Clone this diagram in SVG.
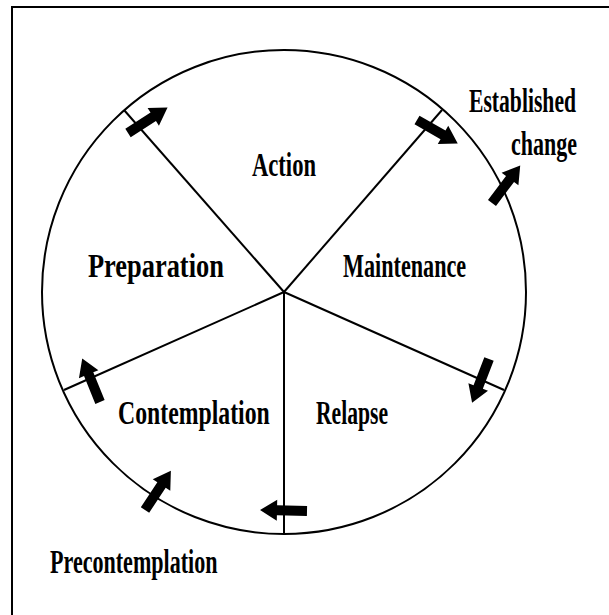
<svg xmlns="http://www.w3.org/2000/svg" xmlns:xlink="http://www.w3.org/1999/xlink" width="609" height="615" viewBox="0 0 609 615">
  <style>
    .lbl { font-family: "Liberation Serif", "Times New Roman", serif; font-weight: bold; font-size: 33px; fill: #000; }
    .ln { stroke: #000; stroke-width: 2; fill: none; }
  </style>
  <defs>
    <path id="arr" d="M0,-5 L30,-5 L30,-10.5 L47,0 L30,10.5 L30,5 L0,5 Z" fill="#000"/>
  </defs>
  <rect x="0" y="0" width="609" height="615" fill="#fff"/>
  <rect x="12" y="7" width="640" height="640" class="ln"/>
  <g id="wheel">
    <circle cx="284" cy="292" r="242" class="ln"/>
  </g>
  <g id="connectors">
    <line x1="284" y1="292" x2="124" y2="110" class="ln"/>
    <line x1="284" y1="292" x2="442" y2="110" class="ln"/>
    <line x1="284" y1="292" x2="504" y2="390" class="ln"/>
    <line x1="284" y1="292" x2="284" y2="534" class="ln"/>
    <line x1="284" y1="292" x2="64" y2="390" class="ln"/>
    <use xlink:href="#arr" href="#arr" transform="translate(128,133) rotate(-32.7)"/>
    <use xlink:href="#arr" href="#arr" transform="translate(417,120) rotate(29.9)"/>
    <use xlink:href="#arr" href="#arr" transform="translate(492,203) rotate(-53.1)"/>
    <use xlink:href="#arr" href="#arr" transform="translate(489,359) rotate(111.1)"/>
    <use xlink:href="#arr" href="#arr" transform="translate(100,402) rotate(-112.2)"/>
    <use xlink:href="#arr" href="#arr" transform="translate(145,510) rotate(-56.6)"/>
    <use xlink:href="#arr" href="#arr" transform="translate(307,511) rotate(181.2)"/>
  </g>
  <g id="action"><text class="lbl" transform="translate(252,176) scale(0.685,1)">Action</text></g>
  <g id="preparation"><text class="lbl" transform="translate(88,277) scale(0.8,1)">Preparation</text></g>
  <g id="maintenance"><text class="lbl" transform="translate(343,277) scale(0.672,1)">Maintenance</text></g>
  <g id="contemplation"><text class="lbl" transform="translate(118,424) scale(0.72,1)">Contemplation</text></g>
  <g id="relapse"><text class="lbl" transform="translate(316,424) scale(0.655,1)">Relapse</text></g>
  <g id="established-change">
    <text class="lbl" transform="translate(469,112) scale(0.656,1)">Established</text>
    <text class="lbl" transform="translate(511,155) scale(0.667,1)">change</text>
  </g>
  <g id="precontemplation"><text class="lbl" transform="translate(50,573) scale(0.669,1)">Precontemplation</text></g>
</svg>
